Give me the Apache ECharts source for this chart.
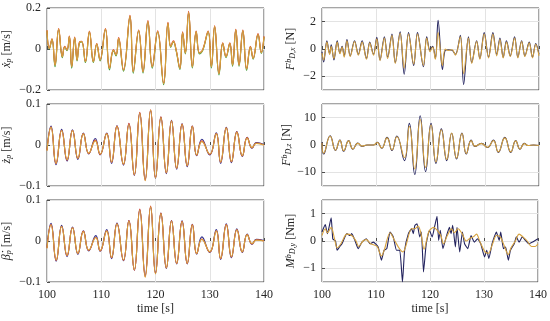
<!DOCTYPE html>
<html>
<head>
<meta charset="utf-8">
<script src="https://cdn.jsdelivr.net/npm/echarts@6/dist/echarts.min.js"></script>
<style>
html,body{margin:0;padding:0;background:#fff;}
#c{width:550px;height:321px;}
</style>
</head>
<body>
<div id="c"></div>
<script>
// ---------- data ----------
// Left top: surge velocity x_p dot
const ltTime = [100.0,100.43,100.92,101.48,102.15,102.83,103.26,103.69,104.12,104.55,105.11,105.54,105.97,106.4,107.08,107.82,108.55,109.17,109.78,110.77,111.51,112.25,112.74,113.2,114.1,115.3,115.9,116.9,117.7,118.6,119.4,120.4,121.5,122.3,122.8,123.3,123.8,124.5,125.0,125.5,126.1,126.8,127.5,128.1,128.7,129.7,130.3,130.9,131.7,132.4,133.0,133.7,134.2,134.8,135.4,136.1,136.8,137.5,138.0,138.9,139.5,140.0];
const ltOrange = [0.090,0.003,0.048,-0.079,0.097,-0.038,0.011,-0.005,0.061,-0.087,0.056,-0.054,0.031,0.036,-0.062,0.085,-0.062,0.025,-0.054,0.097,-0.095,-0.005,-0.030,0.052,-0.103,0.160,-0.111,0.090,-0.111,0.134,-0.087,0.085,-0.169,0.126,0.011,0.036,-0.005,-0.095,0.080,-0.020,0.179,-0.087,0.085,-0.020,-0.005,0.085,-0.087,0.110,-0.120,0.028,-0.038,0.028,-0.079,0.093,-0.079,0.090,-0.098,0.011,-0.046,0.072,-0.018,0.060];
const ltGreen  = [0.088,0.000,0.046,-0.086,0.095,-0.042,0.010,-0.008,0.059,-0.094,0.054,-0.058,0.029,0.034,-0.066,0.083,-0.066,0.023,-0.058,0.095,-0.102,-0.008,-0.034,0.050,-0.108,0.158,-0.118,0.088,-0.117,0.131,-0.094,0.083,-0.174,0.124,0.008,0.034,-0.008,-0.100,0.078,-0.024,0.176,-0.093,0.083,-0.024,-0.008,0.083,-0.093,0.108,-0.126,0.026,-0.042,0.026,-0.084,0.091,-0.084,0.088,-0.104,0.009,-0.050,0.070,-0.021,0.058];
const ltRed    = [0.092,0.004,0.050,-0.077,0.100,-0.036,0.013,-0.004,0.063,-0.085,0.058,-0.052,0.033,0.038,-0.060,0.088,-0.060,0.027,-0.052,0.100,-0.093,-0.003,-0.028,0.056,-0.101,0.164,-0.109,0.093,-0.109,0.139,-0.085,0.089,-0.166,0.130,0.014,0.040,-0.003,-0.093,0.084,-0.018,0.184,-0.085,0.088,-0.018,-0.003,0.088,-0.085,0.113,-0.118,0.030,-0.036,0.030,-0.077,0.096,-0.077,0.093,-0.096,0.013,-0.044,0.075,-0.016,0.062];

// Left middle: heave velocity z_p dot
const lmTime = [100.0,100.74,101.66,102.7,103.7,104.7,105.7,106.7,107.7,108.9,109.8,111.0,111.9,112.9,114.1,115.1,116.1,117.1,118.1,119.1,120.0,121.0,122.0,122.95,123.9,124.9,125.85,126.8,127.6,128.55,130.0,131.2,132.0,133.05,134.0,135.0,136.0,136.9,137.8,138.6,140.0];
const lmYellow = [-0.014,0.043,-0.044,0.035,-0.036,0.035,-0.032,0.027,-0.020,0.010,-0.022,0.027,-0.041,0.045,-0.046,0.050,-0.072,0.077,-0.087,0.085,-0.080,0.067,-0.067,0.058,-0.056,0.050,-0.050,0.045,-0.024,0.008,-0.022,0.027,-0.041,0.041,-0.040,0.031,-0.026,0.017,-0.006,0.004,0.000];
const lmBlue   = [-0.012,0.046,-0.048,0.038,-0.039,0.037,-0.035,0.029,-0.022,0.016,-0.024,0.029,-0.045,0.047,-0.049,0.052,-0.074,0.078,-0.084,0.084,-0.081,0.068,-0.070,0.060,-0.059,0.052,-0.053,0.046,-0.026,0.014,-0.024,0.030,-0.045,0.043,-0.043,0.033,-0.028,0.019,-0.008,0.006,0.001];
const lmRed    = [-0.013,0.044,-0.045,0.036,-0.037,0.036,-0.033,0.028,-0.021,0.012,-0.023,0.028,-0.042,0.046,-0.047,0.053,-0.073,0.080,-0.086,0.086,-0.080,0.069,-0.068,0.059,-0.057,0.051,-0.051,0.046,-0.025,0.010,-0.023,0.028,-0.042,0.042,-0.041,0.032,-0.027,0.018,-0.007,0.005,0.000];

// Left bottom: pitch rate beta_p dot
const lbTime = [100.0,100.74,101.7,102.7,103.7,104.7,105.7,106.7,107.7,109.0,109.8,111.0,111.9,112.9,114.1,115.1,116.1,117.1,118.1,119.1,120.0,121.0,122.0,122.95,123.9,124.9,125.85,126.8,127.6,128.55,130.0,131.2,132.0,133.05,134.0,135.0,136.0,136.9,137.8,138.6,140.0];
const lbYellow = [-0.018,0.039,-0.046,0.035,-0.035,0.032,-0.030,0.023,-0.022,0.008,-0.023,0.024,-0.040,0.041,-0.046,0.048,-0.070,0.075,-0.088,0.083,-0.080,0.067,-0.065,0.048,-0.054,0.047,-0.054,0.039,-0.030,0.004,-0.026,0.024,-0.042,0.039,-0.038,0.027,-0.026,0.015,-0.006,0.002,0.000];
const lbBlue   = [-0.016,0.043,-0.049,0.038,-0.038,0.034,-0.033,0.025,-0.024,0.013,-0.025,0.028,-0.043,0.044,-0.048,0.050,-0.071,0.076,-0.084,0.083,-0.078,0.068,-0.067,0.050,-0.056,0.049,-0.056,0.041,-0.032,0.010,-0.028,0.028,-0.045,0.042,-0.041,0.030,-0.028,0.017,-0.008,0.004,0.001];
const lbRed    = [-0.017,0.040,-0.047,0.036,-0.036,0.033,-0.031,0.024,-0.023,0.009,-0.024,0.025,-0.041,0.042,-0.047,0.050,-0.071,0.078,-0.087,0.085,-0.079,0.068,-0.066,0.049,-0.055,0.048,-0.055,0.040,-0.031,0.005,-0.027,0.025,-0.043,0.040,-0.039,0.028,-0.027,0.016,-0.007,0.003,0.000];

// Right top: F_D,x
const rtTime = [100.0,100.3,100.9,101.4,101.7,102.2,102.8,103.3,103.7,104.1,104.6,105.2,106.0,106.7,107.4,108.2,108.8,109.5,110.1,110.7,111.5,112.1,112.9,113.5,114.4,115.15,115.95,116.9,117.6,118.7,119.3,119.9,120.4,120.9,121.4,122.2,122.7,123.3,124.0,124.6,125.5,126.1,127.0,127.6,128.5,129.1,129.9,130.7,131.5,132.2,132.8,133.4,134.0,134.7,135.5,136.1,136.8,137.4,138.2,138.8,139.4,140.0];
const rtDark   = [-0.2,-0.95,0.6,-0.35,0.3,-0.8,0.6,-0.3,0.2,-0.5,0.7,-0.5,0.6,-0.4,0.6,-0.7,0.5,-0.4,0.85,-0.8,0.9,-0.6,1.1,-1.0,1.25,-1.85,1.2,-1.2,1.2,-1.3,0.9,-0.1,0.2,-0.7,2.1,-1.5,-0.1,-0.05,-0.1,-0.4,1.0,-2.6,0.9,-1.0,0.6,-0.7,1.2,-0.6,1.2,-0.4,0.8,-0.6,0.6,-0.5,0.9,-0.6,0.6,-0.5,0.5,-0.6,0.4,-0.4];
const rtYellow = [-0.3,-0.8,0.5,-0.4,0.2,-0.7,0.5,-0.35,0.15,-0.6,0.6,-0.55,0.55,-0.45,0.5,-0.75,0.45,-0.45,0.75,-0.85,0.8,-0.7,1.0,-1.05,1.15,-1.4,1.1,-1.1,1.1,-1.2,0.8,-0.2,0.15,-0.75,1.2,-1.2,0.0,-0.1,-0.05,-0.45,0.9,-1.8,0.8,-1.05,0.55,-0.75,1.1,-0.65,1.1,-0.5,0.7,-0.65,0.5,-0.55,0.8,-0.65,0.55,-0.55,0.45,-0.65,0.35,-0.5];

// Right middle: F_D,z
const rmTime = [100.0,100.3,101.5,102.5,103.3,104.0,104.9,105.7,106.6,107.4,108.3,109.5,110.2,111.0,112.0,112.9,113.8,115.2,116.1,117.1,118.1,119.1,120.1,121.0,122.0,123.0,123.9,124.8,125.8,126.6,127.5,128.2,129.4,130.5,131.6,132.5,133.7,134.8,135.7,136.5,137.3,138.0,139.0,140.0];
const rmDark   = [1.0,-3.3,3.4,-2.0,1.8,-2.3,1.6,-1.5,0.7,-0.5,0.0,0.0,1.0,-1.2,2.8,-2.0,3.3,-5.7,7.9,-10.8,10.7,-9.7,7.9,-6.7,5.9,-5.7,4.3,-5.1,4.4,-3.3,1.8,-0.5,0.6,-0.9,1.8,-2.7,2.8,-2.7,1.6,-1.5,0.6,-0.2,0.0,-0.2];
const rmYellow = [0.8,-3.0,3.2,-1.9,1.7,-2.1,1.5,-1.4,0.6,-0.4,0.0,0.0,0.9,-1.1,2.6,-1.8,3.0,-4.6,6.8,-8.8,9.3,-8.2,7.3,-6.2,5.6,-5.3,4.4,-4.8,4.2,-3.1,1.6,-0.4,0.5,-0.8,1.6,-2.5,2.6,-2.5,1.5,-1.4,0.5,-0.2,0.0,-0.2];

// Right bottom: M_D,y
const rbDarkTime = [100.0,100.6,101.0,101.7,102.0,102.5,102.8,103.3,103.7,104.6,105.2,105.5,106.1,106.7,107.4,108.2,108.9,109.5,110.4,111.0,111.5,112.0,112.6,113.2,113.8,114.4,114.9,115.3,116.0,116.6,116.9,117.2,117.6,118.1,118.4,118.8,119.3,119.9,120.4,120.9,121.3,121.6,121.9,122.4,123.0,123.6,123.9,124.2,124.7,125.0,125.5,126.0,126.4,127.0,127.6,128.2,128.8,129.4,130.1,130.5,130.9,131.5,131.9,132.3,132.8,133.1,133.6,134.0,134.5,134.9,135.6,136.0,136.5,137.1,137.7,138.3,139.0,140.0];
const rbDark = [0.33,0.60,0.27,0.85,0.08,0.00,-0.34,-0.20,-0.10,0.27,0.20,0.27,0.02,-0.28,-0.04,0.08,-0.10,-0.04,-0.22,-0.70,-0.34,-0.28,0.33,0.15,-0.34,-0.34,-1.50,-0.34,0.27,0.45,0.27,0.57,0.63,0.15,0.33,-1.13,-0.10,0.39,0.15,0.57,0.90,0.02,0.39,-0.28,0.15,0.50,0.27,0.57,-0.22,0.50,-0.40,0.33,-0.10,-0.28,0.20,-0.04,0.08,-0.10,-0.58,-0.34,-0.64,-0.10,0.15,0.33,0.02,0.33,-0.28,-0.22,-0.70,-0.34,-0.10,0.15,-0.04,0.15,0.02,-0.10,-0.04,0.08];
const rbYellowTime = [100.0,100.6,101.0,101.7,102.3,102.8,103.5,104.6,105.5,106.3,106.8,107.6,108.2,109.0,110.2,111.0,111.5,112.6,113.5,114.4,115.0,115.5,116.6,117.2,117.8,118.3,118.9,119.8,120.7,121.3,122.0,122.5,123.2,124.0,124.5,125.2,126.0,126.7,127.4,128.0,128.6,129.3,130.2,130.8,131.6,132.3,133.0,133.6,134.5,135.0,135.8,136.5,137.2,138.0,138.8,139.5,140.0];
const rbYellow = [0.2,0.45,0.3,0.5,0.1,-0.25,-0.1,0.25,0.2,0.0,-0.2,0.0,0.05,-0.1,-0.2,-0.55,-0.35,0.3,0.0,-0.3,-0.4,-0.2,0.45,0.45,0.55,0.3,-0.3,0.35,0.5,0.4,0.2,-0.1,0.2,0.45,0.3,0.45,0.25,0.0,0.1,0.15,0.25,-0.05,-0.4,-0.45,-0.1,0.2,0.15,-0.1,-0.5,-0.25,0.0,0.25,0.15,0.0,-0.2,-0.2,-0.1];

// axes
const timeTicks = [100, 110, 120, 130, 140];
const xMin = 100, xMax = 140, xStep = 10;
const yLimits = [[-0.2, 0.2, 0.2], [-0.1, 0.1, 0.1], [-0.1, 0.1, 0.1], [-3, 3, null], [-15, 15, null], [-1.5, 1.5, null]];
const yNames = [
  '{i|ẋ}{sub|p} [m/s]',
  '{i|ż}{sub|p} [m/s]',
  '{i|β̇}{sub|p} [m/s]',
  '{i|F}{sup|b}{sub|D,x} [N]',
  '{i|F}{sup|b}{sub|D,z} [N]',
  '{i|M}{sup|b}{sub|D,y} [Nm]'
];

// ---------- chart ----------
const zip = (t, v) => t.map((x, i) => [x, v[i]]);
const FONT = 'Liberation Serif';
const C = {orange: '#D6A23E', green: '#3F9A3A', red: '#E0402E', blue: '#2E2E8C', navy: '#23235E'};

const grids = [
  {left: 47, top: 8, width: 217, height: 82},
  {left: 47, top: 104, width: 217, height: 82},
  {left: 47, top: 200, width: 217, height: 82},
  {left: 322, top: 8, width: 217, height: 82},
  {left: 322, top: 104, width: 217, height: 82},
  {left: 322, top: 200, width: 217, height: 82}
].map(g => Object.assign({show: true, borderColor: '#4d4d4d', borderWidth: 1, backgroundColor: 'transparent'}, g));

const fmtNum = v => (v < 0 ? '\u2212' + String(Math.abs(+v.toFixed(3))) : String(+v.toFixed(3)));

const xAxes = grids.map((g, i) => ({
  type: 'value', gridIndex: i, min: xMin, max: xMax, interval: xStep,
  axisLine: {show: false},
  axisTick: {show: true, inside: true, length: 3, lineStyle: {color: '#4d4d4d'}},
  axisLabel: {show: (i === 2 || i === 5), fontFamily: FONT, fontSize: 12, color: '#262626', margin: 7,
              formatter: v => (timeTicks.includes(v) ? String(v) : '')},
  splitLine: {show: true, lineStyle: {color: '#e3e3e3', width: 1}},
  name: (i === 2 || i === 5) ? 'time [s]' : '',
  nameLocation: 'middle', nameGap: 21,
  nameTextStyle: {fontFamily: FONT, fontSize: 12, color: '#262626'}
}));

const yAxes = grids.map((g, i) => {
  const [mn, mx, iv] = yLimits[i];
  const ax = {
    type: 'value', gridIndex: i, min: mn, max: mx,
    axisLine: {show: false},
    axisTick: {show: true, inside: true, length: 3, lineStyle: {color: '#4d4d4d'}},
    axisLabel: {fontFamily: FONT, fontSize: 12, color: '#262626', margin: 6, formatter: fmtNum,
                showMinLabel: iv !== null, showMaxLabel: iv !== null},
    splitLine: {show: true, lineStyle: {color: '#e3e3e3', width: 1}},
    name: yNames[i], nameLocation: 'middle', nameGap: i < 3 ? 34 : 25,
    nameTextStyle: {fontFamily: FONT, fontSize: 12, color: '#262626',
      rich: {
        i: {fontFamily: FONT, fontSize: 12, fontStyle: 'italic', color: '#262626'},
        sub: {fontFamily: FONT, fontSize: 8, fontStyle: 'italic', color: '#262626', verticalAlign: 'bottom'},
        sup: {fontFamily: FONT, fontSize: 8, fontStyle: 'italic', color: '#262626', verticalAlign: 'top'}
      }}
  };
  if (iv !== null) ax.interval = iv; else ax.splitNumber = 3;
  return ax;
});

function line(idx, t, v, color, smooth, width) {
  return {type: 'line', xAxisIndex: idx, yAxisIndex: idx, data: zip(t, v), showSymbol: false,
          smooth: smooth, lineStyle: {color: color, width: width || 1.1}, itemStyle: {color: color},
          silent: true, animation: false, clip: true};
}

const series = [
  line(0, ltTime, ltGreen, C.green, 0.45),
  line(0, ltTime, ltRed, C.red, 0.45),
  line(0, ltTime, ltOrange, C.orange, 0.45, 1.2),
  line(1, lmTime, lmBlue, C.blue, 0.5),
  line(1, lmTime, lmRed, C.red, 0.5),
  line(1, lmTime, lmYellow, C.orange, 0.5, 1.2),
  line(2, lbTime, lbBlue, C.blue, 0.5),
  line(2, lbTime, lbRed, C.red, 0.5),
  line(2, lbTime, lbYellow, C.orange, 0.5, 1.2),
  line(3, rtTime, rtDark, C.navy, 0.35),
  line(3, rtTime, rtYellow, C.orange, 0.35),
  line(4, rmTime, rmDark, C.navy, 0.5),
  line(4, rmTime, rmYellow, C.orange, 0.5),
  line(5, rbDarkTime, rbDark, C.navy, 0.15),
  line(5, rbYellowTime, rbYellow, C.orange, 0.3)
];

const chart = echarts.init(document.getElementById('c'), null, {renderer: 'canvas'});
chart.setOption({
  animation: false,
  backgroundColor: '#ffffff',
  grid: grids, xAxis: xAxes, yAxis: yAxes, series: series
});
</script>
</body>
</html>
